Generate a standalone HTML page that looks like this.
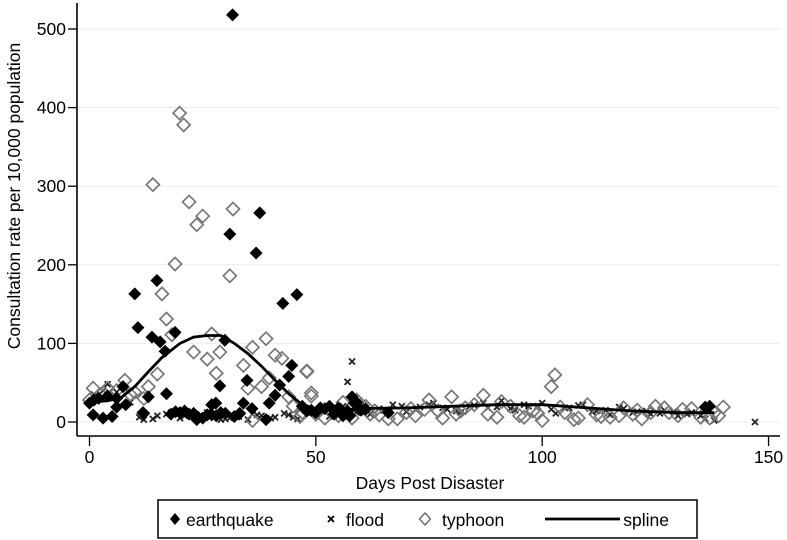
<!DOCTYPE html>
<html><head><meta charset="utf-8"><style>
html,body{margin:0;padding:0;background:#fff;}
svg{display:block;font-family:"Liberation Sans",Arial,sans-serif;}
</style></head><body>
<svg id="chart" width="787" height="540" viewBox="0 0 787 540">
<g id="grid"></g>
<g id="axes"></g>
<g id="flood"></g>
<g id="typhoon"></g>
<g id="quake"></g>
<path id="spline" fill="none" stroke="#000" stroke-width="2.8"></path>
<text x="14" y="196" transform="rotate(-90 14 196)" text-anchor="middle" font-size="17.5" dominant-baseline="central">Consultation rate per 10,000 population</text>
<text x="430" y="489" text-anchor="middle" font-size="17.5">Days Post Disaster</text>
<g>
<rect x="158" y="500" width="539" height="38" fill="#fff" stroke="#000" stroke-width="1.5"></rect>
<g><path d="M175 513 L180 519 L175 525 L170 519 Z" fill="#000"></path><text x="186" y="526" font-size="17.5">earthquake</text></g>
<g><path d="M328 516 L334 522 M334 516 L328 522" stroke="#000" stroke-width="1.8"></path><text x="346" y="526" font-size="17.5">flood</text></g>
<g><path d="M425 513 L430.5 519 L425 525 L419.5 519 Z" fill="none" stroke="#666" stroke-width="1.4"></path><text x="442" y="526" font-size="17.5">typhoon</text></g>
<g><line x1="545" y1="519" x2="620" y2="519" stroke="#000" stroke-width="2.8"></line><text x="669" y="526" font-size="17.5" text-anchor="end">spline</text></g>
</g>
</svg>
<script>
const yTicks=[0,100,200,300,400,500];
const xTicks=[0,50,100,150];
const quakeDays=[31.6,37.6,31,36.8,42.7,45.8,10,14.9,10.7,13.8,15.6,18.9,16.7,29.9,28.8,34.8,44.7,44,42,41,39.7,34,35.9,33.2,27,27.9,13,11.8,0.8,5,0,2,4,6,7.4,6,58,23.7,39,18,19,20,21,22,24,25,26,28,30,32,12,47,49,50,52,54,55,56,57,59,60,66,137,3,1,8,17,23,27,29,33,48,51,53,55.5,57.5,58.5,61,136];
const quakeVals=[518,266,239,215,151,162,163,180,120,108,102,114,90,104,46,53,72,58,47,34,24,24,17,11,22,24,32,12,9,7,24,30,33,30,45,19,32,3,3,10,13,12,14,10,6,5,9,8,11,7,11,20,15,12,17,10,18,8,14,25,15,12,20,5,28,22,36,11,9,12,10,14,18,20,14,8,24,16,19,10];
const typhoonDays=[19.9,20.8,14,22,31.7,25,23.7,18.9,31,16,17,18.2,27,39,36,23,28.8,26,41,42.5,34,28,48,15,35,38,39.7,49,13,7.8,0.8,10,9,4,44,46.5,58,36,102.8,102,48,49,80,87,140,52,55,60,63,66,70,72,75,78,83,85,90,93,95,98,100,105,108,110,112,115,118,120,122,125,128,130,133,135,138,56,68,74,88,96,107,117,127,137,62,82,53,57,59,61,64,71,77,81,91,99,104,113,121,124,131,139,0,3,6,12,45,47,50];
const typhoonVals=[393,378,302,280,271,262,251,201,186,163,131,111,112,106,95,89,89,80,85,81,72,62,65,61,43,45,56,33,45,53,43,38,35,43,32,7,5,2,60,45,64,37,32,34,19,5,8,22,14,4,12,8,28,5,18,22,6,20,8,14,2,12,5,22,9,6,18,10,4,20,12,8,17,6,12,25,4,16,10,6,3,8,18,5,10,14,16,12,28,20,9,17,14,10,26,11,19,7,15,12,16,8,28,37,40,30,20,12,10];
const floodDays=[58,57,147,4,2,6,9,12,15,18,20,22,25,27,30,33,35,38,40,43,45,48,50,52,53,55,60,62,64,67,70,73,76,79,82,85,88,91,94,97,100,103,106,109,112,115,118,121,124,127,130,133,136,138,1,8,24,29,37,3,11,14,17,21,26,31,36,41,44,46,49,51,54,56,59,61,65,69,72,75,78,81,84,87,90,93,96,99,102,105,108,111,114,117,120,123,126,129,132,135];
const floodVals=[77,51,0,48,30,38,25,3,8,12,5,10,6,9,4,7,3,8,5,11,6,14,10,18,7,14,20,10,17,22,13,19,24,16,12,21,18,27,15,20,24,11,18,22,14,9,17,13,10,15,8,12,4,2,35,42,6,3,9,40,6,4,10,8,12,5,10,6,9,4,12,16,8,20,12,18,15,20,16,22,18,14,20,24,19,17,22,20,16,18,21,13,15,19,12,14,11,13,10,8];
const splineDays=[0,4,7,10,13,16,20,23,26,29,32,35,38,41,44,47,50,55,60,70,80,90,100,110,120,130,138];
const splineVals=[25,27,31,45,64,82,100,108,110,110,100,87,71,53,36,22,17,15,17,18,20,22,22,18,14,12,12];

const X=d=>89.5+d*4.527, Y=v=>422-v*0.786;
const NS='http://www.w3.org/2000/svg';
function mk(tag,parent,attrs){const e=document.createElementNS(NS,tag);for(const k in attrs)e.setAttribute(k,attrs[k]);document.getElementById(parent).appendChild(e);return e;}
let a=mk('line','axes',{x1:77,y1:3,x2:77,y2:436,stroke:'#000','stroke-width':1.6});


a=mk('line','axes',{x1:77,y1:436,x2:780,y2:436,stroke:'#000','stroke-width':1.6});


yTicks.forEach(t=>{
  const g=mk('line','grid',{x1:78,x2:780,y1:Y(t),y2:Y(t),stroke:'#ebebeb','stroke-width':1});
  
  
  const tk=mk('line','axes',{x1:68,x2:77,y1:Y(t),y2:Y(t),stroke:'#000','stroke-width':1.3});
  
  
  const tx=mk('text','axes',{x:66,y:Y(t)+6,'text-anchor':'end','font-size':17.5});
  tx.textContent=t;
  
  
});
xTicks.forEach(t=>{
  const tk=mk('line','axes',{x1:X(t),x2:X(t),y1:436,y2:446,stroke:'#000','stroke-width':1.3});
  
  
  const tx=mk('text','axes',{x:X(t),y:463,'text-anchor':'middle','font-size':17.5});
  tx.textContent=t;
  
  
});
floodDays.forEach((d,i)=>{
  const x=X(d),y=Y(floodVals[i]);
  const p=mk('path','flood',{d:`M${x-3} ${y-3}L${x+3} ${y+3}M${x+3} ${y-3}L${x-3} ${y+3}`,stroke:'#222','stroke-width':1.8});
  
  
});
typhoonDays.forEach((d,i)=>{
  const x=X(d),y=Y(typhoonVals[i]);
  const p=mk('path','typhoon',{d:`M${x} ${y-6.5}L${x+6.5} ${y}L${x} ${y+6.5}L${x-6.5} ${y}Z`,fill:'none',stroke:'#777','stroke-width':1.7});
  
  
});
quakeDays.forEach((d,i)=>{
  const x=X(d),y=Y(quakeVals[i]);
  const p=mk('path','quake',{d:`M${x} ${y-6.5}L${x+6.5} ${y}L${x} ${y+6.5}L${x-6.5} ${y}Z`,fill:'#000'});
  
  
});
document.getElementById('spline').setAttribute('d',splineDays.map((d,i)=>(i?'L':'M')+X(d).toFixed(1)+' '+Y(splineVals[i]).toFixed(1)).join(''));
</script>
</body></html>
